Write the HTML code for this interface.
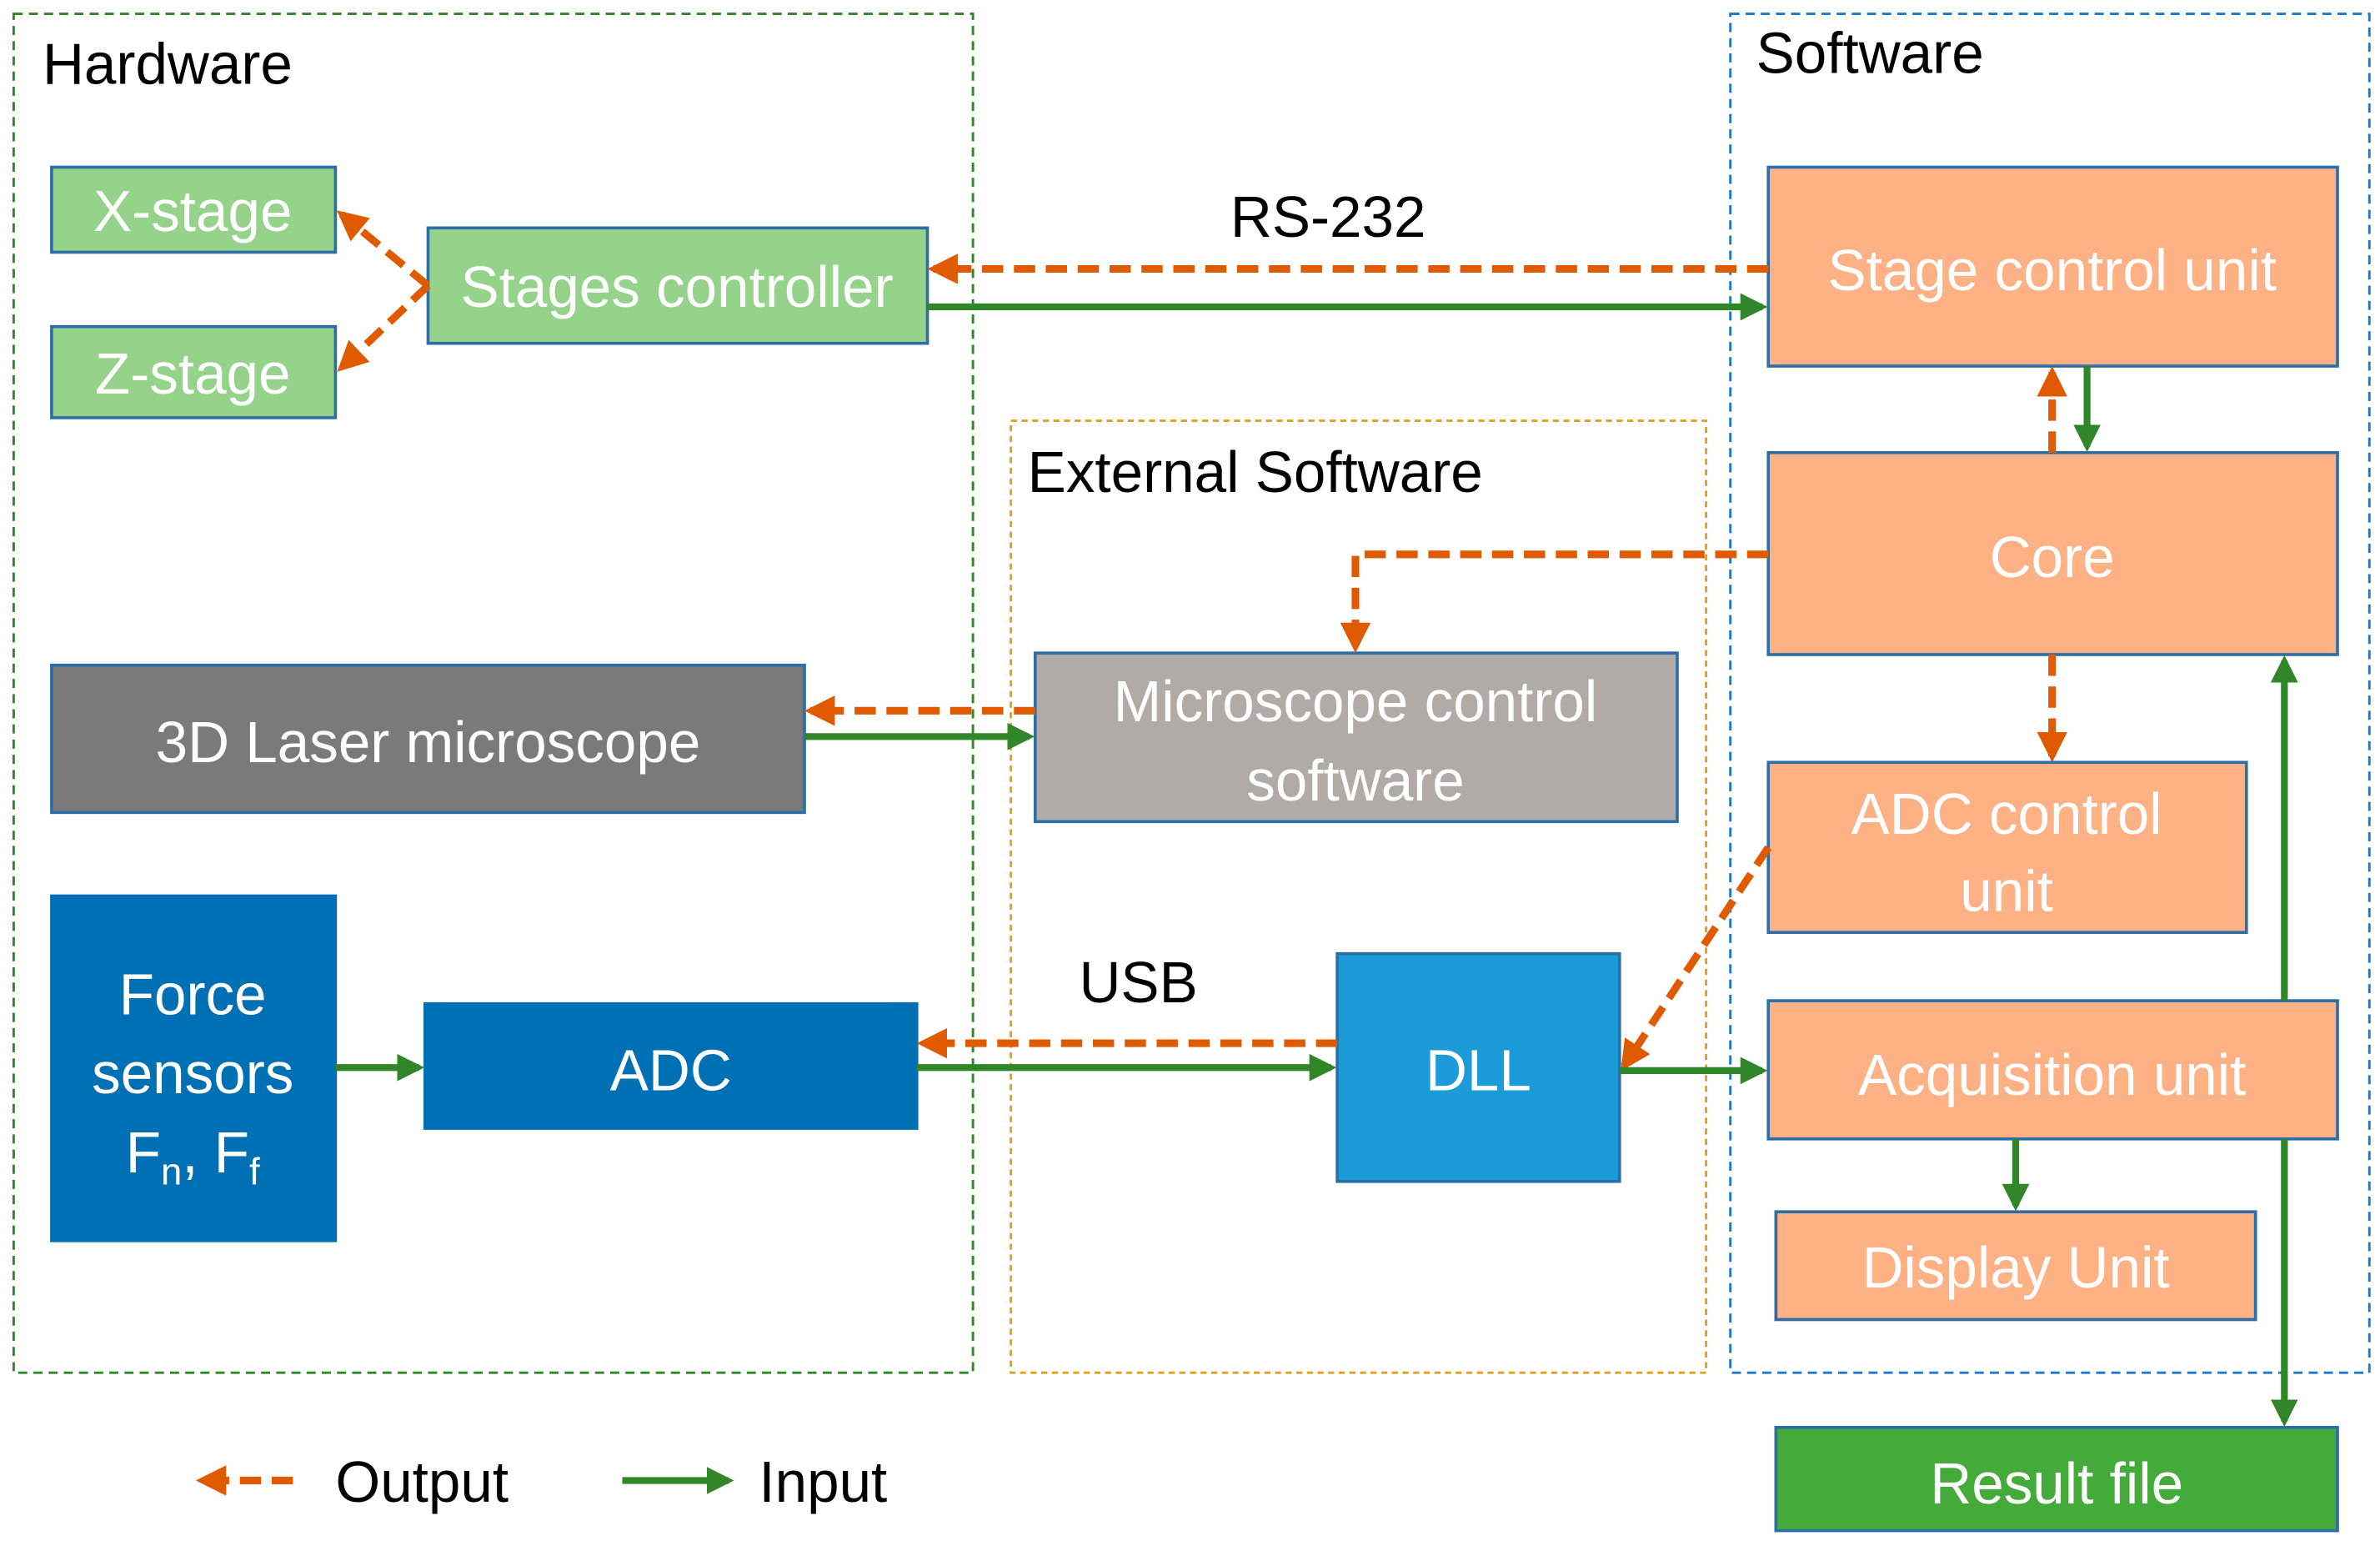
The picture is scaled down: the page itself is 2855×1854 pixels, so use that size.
<!DOCTYPE html>
<html><head><meta charset="utf-8"><style>html,body{margin:0;padding:0;background:#fff}svg{display:block}</style></head>
<body>
<svg width="2855" height="1854" viewBox="0 0 1568 1018" xmlns="http://www.w3.org/2000/svg" font-family="Liberation Sans, sans-serif">
<defs>
<marker id="ao" markerWidth="4" markerHeight="4" refX="3.2" refY="2" orient="auto" markerUnits="strokeWidth"><path d="M0,0 L4,2 L0,4 z" fill="#e05a00"/></marker>
<marker id="ag" markerWidth="4" markerHeight="4" refX="3.2" refY="2" orient="auto" markerUnits="strokeWidth"><path d="M0,0 L4,2 L0,4 z" fill="#31862a"/></marker>
</defs>
<g fill="none" stroke-width="1.6" stroke-dasharray="6,4">
<rect x="9" y="9" width="632" height="895" stroke="#31862a"/>
<rect x="666" y="277" width="458" height="627" stroke="#e0a020" stroke-dasharray="4,3"/>
<rect x="1140" y="9" width="421" height="895" stroke="#1f78c8"/>
</g>
<g font-size="38" fill="#000">
<text x="28" y="55">Hardware</text>
<text x="1157" y="48">Software</text>
<text x="677" y="324">External Software</text>
<text x="875" y="156" text-anchor="middle">RS-232</text>
<text x="750" y="660" text-anchor="middle">USB</text>
<text x="221" y="989">Output</text>
<text x="500" y="989">Input</text>
</g>
<g stroke="#2e6ea6" stroke-width="2">
<rect x="34" y="110" width="187" height="56" fill="#95d28a"/>
<rect x="34" y="215" width="187" height="60" fill="#95d28a"/>
<rect x="282" y="150" width="329" height="76" fill="#95d28a"/>
<rect x="1165" y="110" width="375" height="131" fill="#fdb184"/>
<rect x="1165" y="298" width="375" height="133" fill="#fdb184"/>
<rect x="1165" y="502" width="315" height="112" fill="#fdb184"/>
<rect x="1165" y="659" width="375" height="91" fill="#fdb184"/>
<rect x="1170" y="798" width="316" height="71" fill="#fdb184"/>
<rect x="1170" y="940" width="370" height="68" fill="#44aa3a"/>
<rect x="34" y="438" width="496" height="97" fill="#7a7a7a"/>
<rect x="682" y="430" width="423" height="111" fill="#b0aba8"/>
<rect x="34" y="590" width="187" height="227" fill="#0070b4" stroke="#0070b4"/>
<rect x="280" y="661" width="324" height="82" fill="#0070b4" stroke="#0070b4"/>
<rect x="881" y="628" width="186" height="150" fill="#1b9bd7"/>
</g>
<g font-size="38" fill="#fff" text-anchor="middle">
<text x="127" y="152">X-stage</text>
<text x="127" y="259">Z-stage</text>
<text x="446" y="202">Stages controller</text>
<text x="1352" y="191">Stage control unit</text>
<text x="1352" y="380">Core</text>
<text x="1322" y="549">ADC control</text>
<text x="1322" y="600">unit</text>
<text x="1352" y="721">Acquisition unit</text>
<text x="1328" y="848">Display Unit</text>
<text x="1355" y="990">Result file</text>
<text x="282" y="502">3D Laser microscope</text>
<text x="893" y="475">Microscope control</text>
<text x="893" y="527">software</text>
<text x="127" y="668">Force</text>
<text x="127" y="720">sensors</text>
<text x="127" y="772">F<tspan font-size="25" dy="8">n</tspan><tspan dy="-8">, F</tspan><tspan font-size="25" dy="8">f</tspan></text>
<text x="442" y="718">ADC</text>
<text x="974" y="718">DLL</text>
</g>
<g fill="none" stroke="#e05a00" stroke-width="5" stroke-dasharray="14,7" marker-end="url(#ao)">
<path d="M1165,177 L615,177"/>
<path d="M282,188 L225,141"/>
<path d="M282,188 L225,242"/>
<path d="M1352,298 L1352,245"/>
<path d="M1165,365 L893,365 L893,426"/>
<path d="M1352,431 L1352,498"/>
<path d="M682,468 L534,468"/>
<path d="M1165,558 L1070,702"/>
<path d="M881,687 L608,687"/>
<path d="M193,975 L133,975"/>
</g>
<g fill="none" stroke="#31862a" stroke-width="4.5" marker-end="url(#ag)">
<path d="M611,202 L1161,202"/>
<path d="M1375,241 L1375,294"/>
<path d="M530,485 L678,485"/>
<path d="M604,703 L877,703"/>
<path d="M221,703 L276,703"/>
<path d="M1067,705 L1161,705"/>
<path d="M1505,659 L1505,435"/>
<path d="M1328,750 L1328,794"/>
<path d="M1505,750 L1505,936"/>
<path d="M410,975 L480,975"/>
</g>
</svg>
</body></html>
